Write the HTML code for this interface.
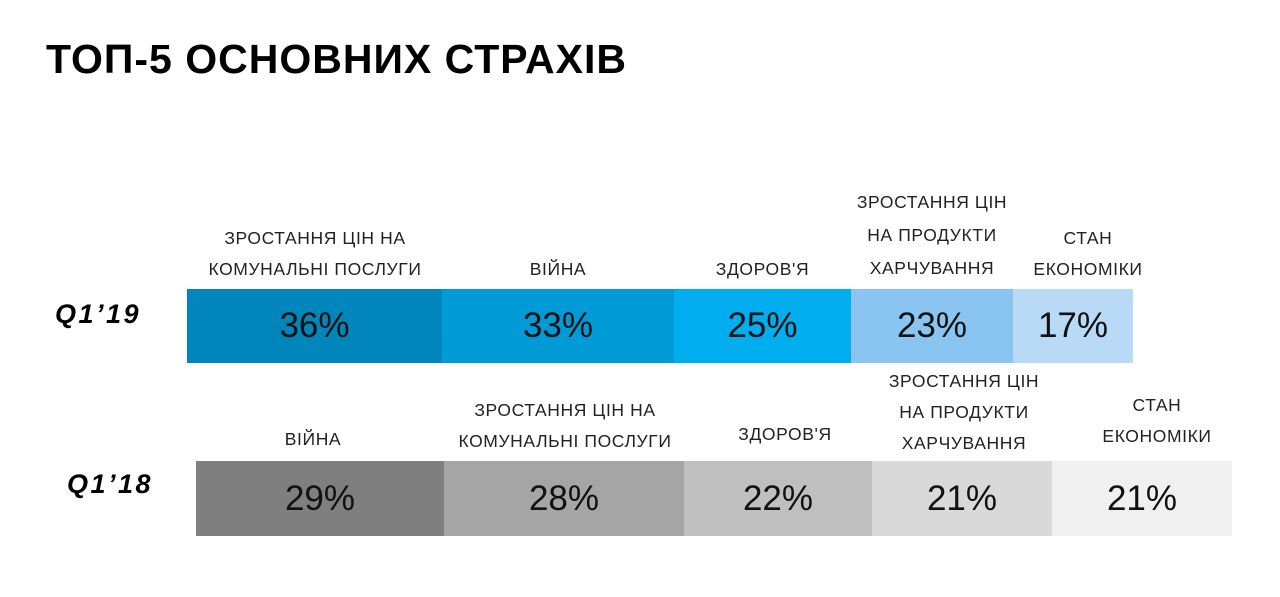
<!DOCTYPE html>
<html><head><meta charset="utf-8"><style>
body{margin:0;width:1280px;height:597px;background:#fff;position:relative;overflow:hidden;font-family:"Liberation Sans",sans-serif}
.t{position:absolute;left:46px;top:36px;font-size:41px;font-weight:bold;letter-spacing:1px;color:#000}
.q{position:absolute;font-size:27px;font-weight:bold;font-style:italic;letter-spacing:2.5px}
.s{position:absolute;display:flex;align-items:center;justify-content:center;font-size:35px;color:#111}
.l{position:absolute;text-align:center;font-size:17.5px;line-height:31px;letter-spacing:0.6px;color:#222;display:flex;align-items:flex-end;justify-content:center}
</style></head><body>
<div class="t">ТОП-5 ОСНОВНИХ СТРАХІВ</div>
<div class="q" style="left:55px;top:299px">Q1’19</div>
<div class="q" style="left:67px;top:469px">Q1’18</div>

<div class="s" style="left:187px;top:289px;width:255px;height:74px;background:#0086ba">36%</div>
<div class="s" style="left:442px;top:289px;width:232px;height:74px;background:#009ad7">33%</div>
<div class="s" style="left:674px;top:289px;width:177px;height:74px;background:#00aeef">25%</div>
<div class="s" style="left:851px;top:289px;width:162px;height:74px;background:#89c5f0">23%</div>
<div class="s" style="left:1013px;top:289px;width:120px;height:74px;background:#b8daf6">17%</div>

<div class="s" style="left:196px;top:461px;width:248px;height:75px;background:#7f7f7f">29%</div>
<div class="s" style="left:444px;top:461px;width:240px;height:75px;background:#a5a5a5">28%</div>
<div class="s" style="left:684px;top:461px;width:188px;height:75px;background:#bfbfbf">22%</div>
<div class="s" style="left:872px;top:461px;width:180px;height:75px;background:#d9d9d9">21%</div>
<div class="s" style="left:1052px;top:461px;width:180px;height:75px;background:#f0f0f0">21%</div>

<div class="l" style="left:170px;width:290px;top:190px;height:95px">ЗРОСТАННЯ ЦІН НА<br>КОМУНАЛЬНІ ПОСЛУГИ</div>
<div class="l" style="left:442px;width:232px;top:190px;height:95px">ВІЙНА</div>
<div class="l" style="left:674px;width:177px;top:190px;height:95px">ЗДОРОВ'Я</div>
<div class="l" style="left:820px;width:224px;top:185px;height:100px;line-height:33px">ЗРОСТАННЯ ЦІН<br>НА ПРОДУКТИ<br>ХАРЧУВАННЯ</div>
<div class="l" style="left:1013px;width:150px;top:190px;height:95px">СТАН<br>ЕКОНОМІКИ</div>

<div class="l" style="left:196px;width:234px;top:360px;height:95px">ВІЙНА</div>
<div class="l" style="left:420px;width:290px;top:360px;height:97px">ЗРОСТАННЯ ЦІН НА<br>КОМУНАЛЬНІ ПОСЛУГИ</div>
<div class="l" style="left:690px;width:190px;top:360px;height:90px">ЗДОРОВ'Я</div>
<div class="l" style="left:852px;width:224px;top:360px;height:99px">ЗРОСТАННЯ ЦІН<br>НА ПРОДУКТИ<br>ХАРЧУВАННЯ</div>
<div class="l" style="left:1082px;width:150px;top:360px;height:92px">СТАН<br>ЕКОНОМІКИ</div>
</body></html>
